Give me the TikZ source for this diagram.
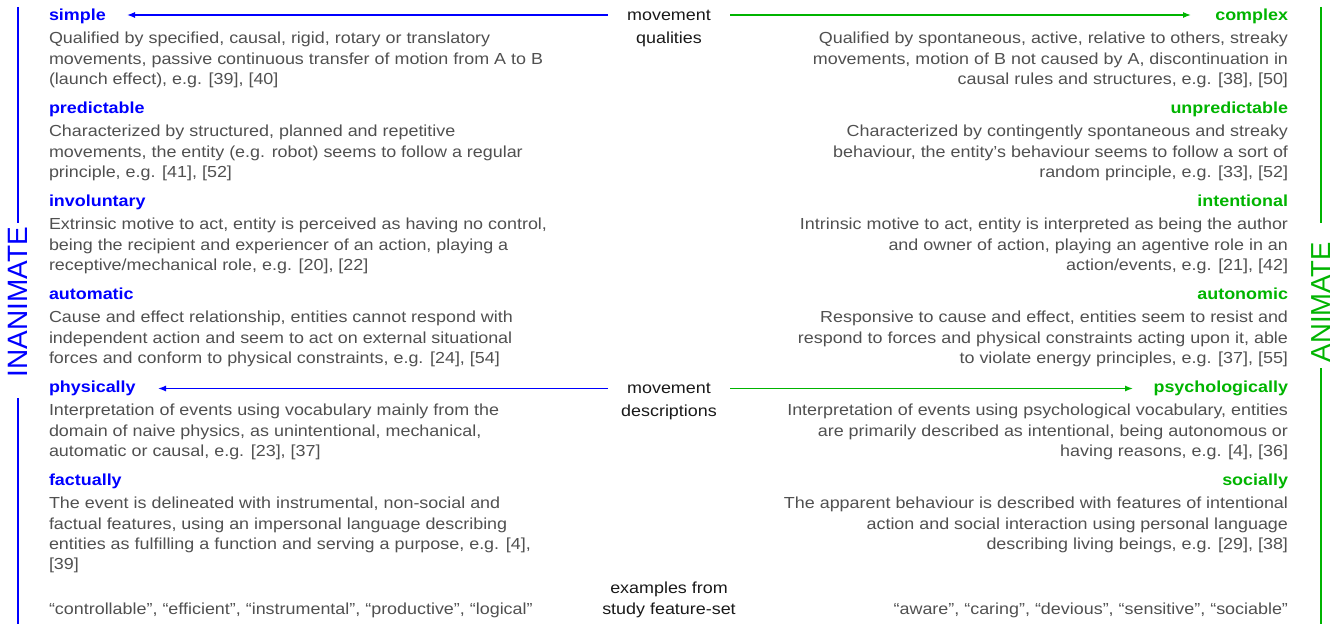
\documentclass[tikz,border=0pt]{standalone}
\usepackage{fontspec}
\setmainfont{Liberation Sans}[FakeStretch=1.12]
\newfontfamily\rotfont{Liberation Sans}
\usetikzlibrary{arrows.meta}
\definecolor{blueA}{RGB}{0,0,255}
\definecolor{greenA}{RGB}{0,180,0}
\definecolor{bodyg}{RGB}{80,80,80}
\definecolor{centerg}{RGB}{25,25,25}
\newcommand\myStrut{\rule{0pt}{13pt}}
\begin{document}
\begin{tikzpicture}[x=1pt,y=-1pt,
  every node/.style={inner sep=0pt, outer sep=0pt},
  txt/.style={font=\fontsize{16}{20.3}\selectfont},
  headL/.style={txt, anchor=base west, font=\fontsize{16}{20.3}\selectfont\bfseries, text=blueA},
  headR/.style={txt, anchor=base east, font=\fontsize{16}{20.3}\selectfont\bfseries, text=greenA},
  bodyL/.style={txt, anchor=north west, align=left, text=bodyg},
  bodyR/.style={txt, anchor=north east, align=right, text=bodyg},
  exL/.style={txt, anchor=base west, text=bodyg},
  exR/.style={txt, anchor=base east, text=bodyg},
  ctr/.style={txt, anchor=base, text=centerg},
  arrB/.style={draw=blueA, line width=1.3pt, -{Latex[length=8pt,width=6pt]}},
  arrG/.style={draw=greenA, line width=1.3pt, -{Latex[length=8pt,width=6pt]}},
  sideB/.style={draw=blueA, line width=2pt},
  sideG/.style={draw=greenA, line width=2pt},
  sideT/.style={rotate=90},
]
\useasboundingbox (0,0) rectangle (1343,626);

% ---------- left column ----------
\node[headL] (simple) at (49,20.7) {simple};
\node[bodyL] (simpleT) at (49,30.7) {\myStrut Qualified by specified, causal, rigid, rotary or translatory\\movements, passive continuous transfer of motion from A to B\\(launch effect), e.g. [39], [40]};
\node[headL] (pred) at (49,113.7) {predictable};
\node[bodyL] (predT) at (49,123.7) {\myStrut Characterized by structured, planned and repetitive\\movements, the entity (e.g. robot) seems to follow a regular\\principle, e.g. [41], [52]};
\node[headL] (invol) at (49,206.7) {involuntary};
\node[bodyL] (involT) at (49,216.7) {\myStrut Extrinsic motive to act, entity is perceived as having no control,\\being the recipient and experiencer of an action, playing a\\receptive/mechanical role, e.g. [20], [22]};
\node[headL] (autom) at (49,299.7) {automatic};
\node[bodyL] (automT) at (49,309.7) {\myStrut Cause and effect relationship, entities cannot respond with\\independent action and seem to act on external situational\\forces and conform to physical constraints, e.g. [24], [54]};
\node[headL] (phys) at (49,392.7) {physically};
\node[bodyL] (physT) at (49,402.7) {\myStrut Interpretation of events using vocabulary mainly from the\\domain of naive physics, as unintentional, mechanical,\\automatic or causal, e.g. [23], [37]};
\node[headL] (fact) at (49,485.7) {factually};
\node[bodyL] (factT) at (49,495.7) {\myStrut The event is delineated with instrumental, non-social and\\factual features, using an impersonal language describing\\entities as fulfilling a function and serving a purpose, e.g. [4],\\{}[39]};
\node[exL] (exl) at (49,614) {“controllable”, “efficient”, “instrumental”, “productive”, “logical”};

% ---------- right column ----------
\node[headR] (complex) at (1288,20.7) {complex};
\node[bodyR] (complexT) at (1288,30.7) {\myStrut Qualified by spontaneous, active, relative to others, streaky\\movements, motion of B not caused by A, discontinuation in\\causal rules and structures, e.g. [38], [50]};
\node[headR] (unpred) at (1288,113.7) {unpredictable};
\node[bodyR] (unpredT) at (1288,123.7) {\myStrut Characterized by contingently spontaneous and streaky\\behaviour, the entity’s behaviour seems to follow a sort of\\random principle, e.g. [33], [52]};
\node[headR] (intent) at (1288,206.7) {intentional};
\node[bodyR] (intentT) at (1288,216.7) {\myStrut Intrinsic motive to act, entity is interpreted as being the author\\and owner of action, playing an agentive role in an\\action/events, e.g. [21], [42]};
\node[headR] (auton) at (1288,299.7) {autonomic};
\node[bodyR] (autonT) at (1288,309.7) {\myStrut Responsive to cause and effect, entities seem to resist and\\respond to forces and physical constraints acting upon it, able\\to violate energy principles, e.g. [37], [55]};
\node[headR] (psych) at (1288,392.7) {psychologically};
\node[bodyR] (psychT) at (1288,402.7) {\myStrut Interpretation of events using psychological vocabulary, entities\\are primarily described as intentional, being autonomous or\\having reasons, e.g. [4], [36]};
\node[headR] (soc) at (1288,485.7) {socially};
\node[bodyR] (socT) at (1288,495.7) {\myStrut The apparent behaviour is described with features of intentional\\action and social interaction using personal language\\describing living beings, e.g. [29], [38]};
\node[exR] (exr) at (1288,614) {“aware”, “caring”, “devious”, “sensitive”, “sociable”};

% ---------- centre ----------
\node[ctr] (mq1) at (669,20.7) {movement};
\node[ctr] (mq2) at (669,43.3) {qualities};
\node[ctr] (md1) at (669,393.3) {movement};
\node[ctr] (md2) at (669,416.3) {descriptions};
\node[ctr] (ex1) at (669,593.5) {examples from};
\node[ctr] (ex2) at (669,614) {study feature-set};

% ---------- arrows ----------
\coordinate (qB) at (608,15);
\coordinate (qBe) at (127,15);
\coordinate (qG) at (730,15);
\coordinate (qGe) at (1191,15);
\draw[arrB] (qB) -- (qBe);
\draw[arrG] (qG) -- (qGe);
\coordinate (dB) at (608,388.5);
\coordinate (dBe) at (158,388.5);
\coordinate (dG) at (730,388.5);
\coordinate (dGe) at (1133,388.5);
\draw[arrB] (dB) -- (dBe);
\draw[arrG] (dG) -- (dGe);

% ---------- side labels ----------
\node[sideT, font=\rotfont\fontsize{28}{28}\selectfont, text=blueA] (inan) at (17.5,302) {INANIMATE};
\coordinate (lt1) at (17.5,7);
\coordinate (lt2) at (17.5,223);
\coordinate (lb1) at (17.5,398);
\coordinate (lb2) at (17.5,624);
\draw[sideB] (lt1) -- (lt2);
\draw[sideB] (lb1) -- (lb2);
\node[sideT, font=\rotfont\fontsize{27.5}{27.5}\selectfont, text=greenA] (anim) at (1321.5,302) {ANIMATE};
\coordinate (rt1) at (1321,7);
\coordinate (rt2) at (1321,223);
\coordinate (rb1) at (1321,368);
\coordinate (rb2) at (1321,624);
\draw[sideG] (rt1) -- (rt2);
\draw[sideG] (rb1) -- (rb2);
\end{tikzpicture}
\end{document}
